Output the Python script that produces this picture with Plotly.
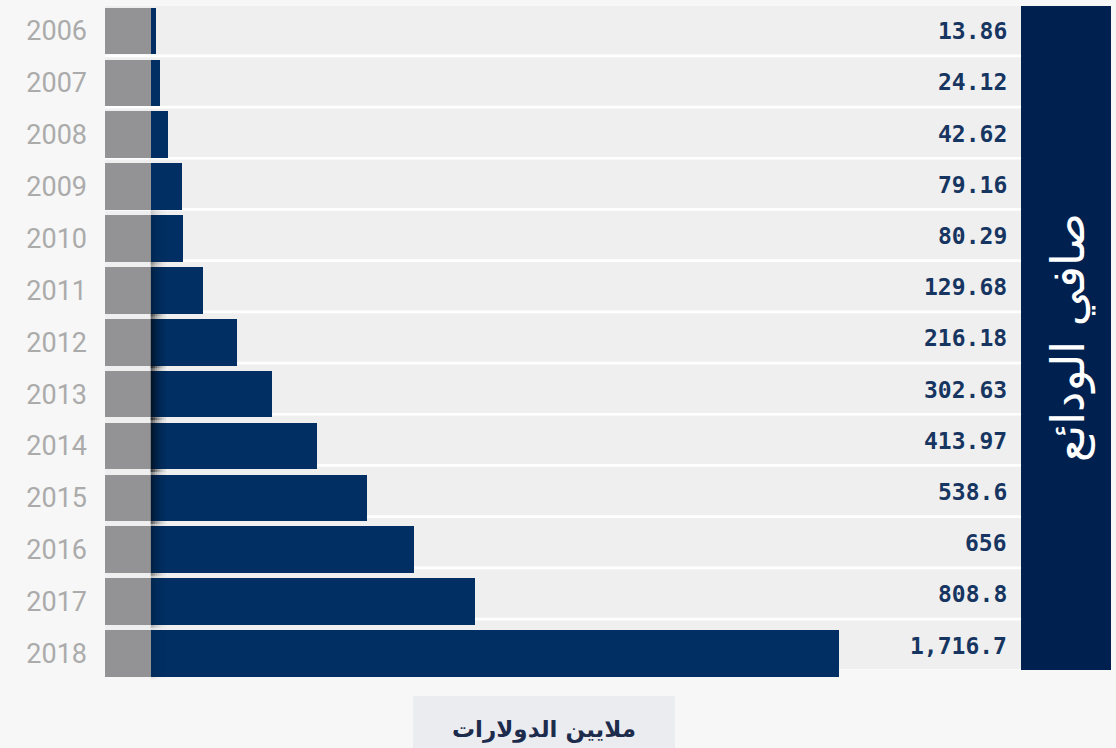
import plotly.graph_objects as go

# ---------------- data ----------------
years = ["2006", "2007", "2008", "2009", "2010", "2011", "2012",
         "2013", "2014", "2015", "2016", "2017", "2018"]
values = [13.86, 24.12, 42.62, 79.16, 80.29, 129.68, 216.18,
          302.63, 413.97, 538.6, 656, 808.8, 1716.7]
value_labels = ["13.86", "24.12", "42.62", "79.16", "80.29", "129.68", "216.18",
                "302.63", "413.97", "538.6", "656", "808.8", "1,716.7"]
title_text = "صافي الودائع"
unit_text = "ملايين الدولارات"

# ---------------- geometry / style ----------------
W, H = 1116, 748
NAVY_BAR = "#012f63"
NAVY_PANEL = "#00214f"
GRAY_BOX = "#939396"
BAND = "#efefef"

PX0 = 150.7                      # pixel where value 0 sits
PXPU = 688.3 / 1716.7            # pixels per unit
X_LEFT_PX, X_RIGHT_PX = 105, 1022
xmin = (X_LEFT_PX - PX0) / PXPU
xmax = (X_RIGHT_PX - PX0) / PXPU

ROW0, PITCH = 31.0, 51.875       # bar row centre (px) and pitch
y_bottom = (H - ROW0) / PITCH
y_top = -ROW0 / PITCH
idx = list(range(len(years)))

BAND0, BAND_PITCH, BAND_H = 6.0, 51.2, 48.5


def py(px):
    return 1 - px / H


def pxx(px):
    return px / W


fig = go.Figure()

# grey stub boxes at the start of each row
fig.add_trace(go.Bar(
    y=idx, x=[-xmin] * len(idx), base=[xmin] * len(idx), orientation="h",
    width=0.9, marker=dict(color=GRAY_BOX, line=dict(width=0)),
    hoverinfo="skip", showlegend=False))

# data bars
fig.add_trace(go.Bar(
    y=idx, x=values, orientation="h", width=0.9,
    marker=dict(color=NAVY_BAR, line=dict(width=0)),
    hovertemplate="%{y}: %{x}<extra></extra>", showlegend=False))

shapes = []
# white table background
shapes.append(dict(type="rect", xref="paper", yref="paper",
                   x0=pxx(X_LEFT_PX), x1=pxx(X_RIGHT_PX),
                   y0=py(BAND0), y1=py(BAND0 + BAND_PITCH * 12 + BAND_H + 0.5),
                   fillcolor="#ffffff", line=dict(width=0), layer="below"))
# row bands
for i in idx:
    top = BAND0 + BAND_PITCH * i
    shapes.append(dict(type="rect", xref="paper", yref="paper",
                       x0=pxx(X_LEFT_PX), x1=pxx(X_RIGHT_PX),
                       y0=py(top), y1=py(top + BAND_H),
                       fillcolor=BAND, line=dict(width=0), layer="below"))
# right title panel
shapes.append(dict(type="rect", xref="paper", yref="paper",
                   x0=pxx(1021), x1=pxx(1111), y0=py(6), y1=py(670),
                   fillcolor=NAVY_PANEL, line=dict(width=0), layer="below"))
# unit label box
shapes.append(dict(type="rect", xref="paper", yref="paper",
                   x0=pxx(413), x1=pxx(675), y0=py(696), y1=py(748),
                   fillcolor="#ebecf0", line=dict(width=0), layer="below"))

# shadow gradient at the bar origin
row_strength = {4: 0.25, 5: 0.5, 6: 0.9, 7: 1.0, 8: 0.95, 9: 0.75, 10: 0.5, 11: 0.3, 12: 0.12}
stripe_op = [0.6, 0.45, 0.32, 0.22, 0.14, 0.08, 0.04]
stripe_w = 2.2 / PXPU
for i, s in row_strength.items():
    for k, op in enumerate(stripe_op):
        shapes.append(dict(type="rect", xref="x", yref="y",
                           x0=k * stripe_w, x1=(k + 1) * stripe_w,
                           y0=i - 0.55, y1=i + 0.5,
                           fillcolor="#000000", opacity=op * s,
                           line=dict(width=0), layer="above"))

annotations = []
for i, lab in enumerate(value_labels):
    annotations.append(dict(
        text=lab, xref="paper", yref="paper",
        x=pxx(1009), y=py(BAND0 + BAND_PITCH * i + BAND_H / 2 + 1),
        xanchor="right", yanchor="middle", showarrow=False,
        font=dict(family="DejaVu Sans Mono", size=23, color="#173561", weight="bold")))

annotations.append(dict(
    text=title_text, xref="paper", yref="paper", x=pxx(1068), y=py(338),
    xanchor="center", yanchor="middle", textangle=-90, showarrow=False,
    font=dict(family="DejaVu Sans", size=46, color="#ffffff")))

annotations.append(dict(
    text=unit_text, xref="paper", yref="paper", x=pxx(544), y=py(729),
    xanchor="center", yanchor="middle", showarrow=False,
    font=dict(family="DejaVu Sans", size=23, color="#1d2b4c", weight="bold")))

fig.update_layout(
    width=W, height=H,
    margin=dict(l=0, r=0, t=0, b=0, pad=0),
    paper_bgcolor="#f7f7f7", plot_bgcolor="rgba(0,0,0,0)",
    barmode="overlay", bargap=0,
    shapes=shapes, annotations=annotations,
    xaxis=dict(domain=[pxx(X_LEFT_PX), pxx(X_RIGHT_PX)], range=[xmin, xmax],
               visible=False, fixedrange=True),
    yaxis=dict(domain=[0, 1], range=[y_bottom, y_top], tickmode="array",
               tickvals=idx, ticktext=years, showgrid=False, zeroline=False,
               showline=False, ticks="", ticklabelstandoff=17,
               tickfont=dict(family="Roboto, sans-serif", size=27, color="#ababab"),
               fixedrange=True),
    showlegend=False,
)

fig.write_html("out.html")
